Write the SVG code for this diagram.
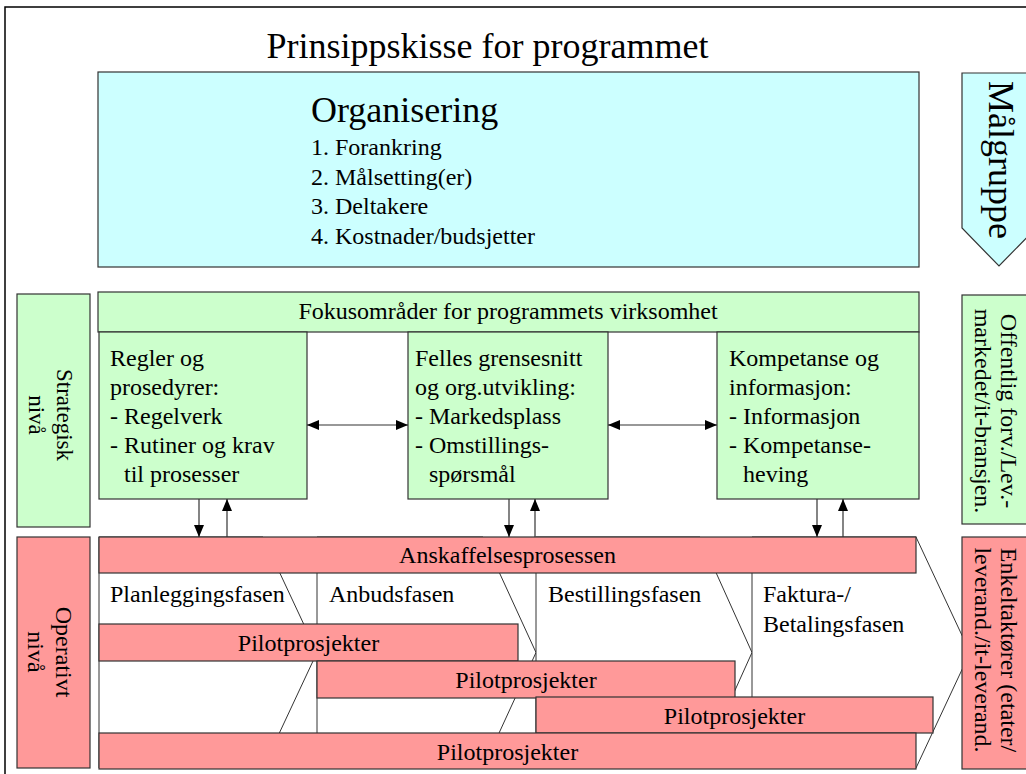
<svg xmlns="http://www.w3.org/2000/svg" width="1026" height="774" viewBox="0 0 1026 774" font-family="'Liberation Serif', 'Times New Roman', serif" font-size="24">
<defs>
<marker id="ah" markerUnits="userSpaceOnUse" markerWidth="12" markerHeight="10" refX="12" refY="5" orient="auto-start-reverse" viewBox="0 0 12 10">
<path d="M0,0 L12,5 L0,10 z" fill="#000"/>
</marker>
<style>
text{font-family:'Liberation Serif','Times New Roman',serif;fill:#000}
.box{stroke:#333;stroke-width:1.2}
.cy{fill:#CCFFFF}
.gr{fill:#CCFFCC}
.rd{fill:#FF9999}
.ph{fill:#fff;stroke:#333;stroke-width:1}
.mid{text-anchor:middle}
.con{stroke:#333;stroke-width:1.2;fill:none}
</style>
</defs>
<rect x="0" y="0" width="1026" height="774" fill="#fff"/>
<rect x="5" y="7" width="1040" height="790" fill="none" stroke="#000" stroke-width="1.5"/>
<text x="487.5" y="58" class="mid" font-size="36">Prinsippskisse for programmet</text>

<g id="organisering">
<rect x="98" y="72" width="821" height="195" class="box cy"/>
<text x="311" y="122" font-size="36">Organisering</text>
<text x="311" y="155">1. Forankring</text>
<text x="311" y="184.5">2. Målsetting(er)</text>
<text x="311" y="214">3. Deltakere</text>
<text x="311" y="243.5">4. Kostnader/budsjetter</text>
</g>

<g id="malgruppe">
<path d="M962,73 L1036,73 L1036,228 L999,266 L962,228 z" class="box cy"/>
<text transform="translate(989,160) rotate(90)" class="mid" font-size="36">Målgruppe</text>
</g>

<g id="strategisk">
<rect x="17" y="294" width="73" height="233" class="box gr"/>
<text transform="translate(57,415) rotate(90)" class="mid" font-size="23"><tspan x="0" y="0">Strategisk</tspan><tspan x="0" y="28">nivå</tspan></text>
</g>

<g id="operativt">
<rect x="17" y="537" width="73" height="231" class="box rd"/>
<text transform="translate(56,652) rotate(90)" class="mid"><tspan x="0" y="0">Operativt</tspan><tspan x="0" y="28">nivå</tspan></text>
</g>

<g id="fokus">
<rect x="98" y="292" width="821" height="40" class="box gr"/>
<text x="508" y="319" class="mid">Fokusområder for programmets virksomhet</text>
</g>

<g id="regler">
<rect x="99" y="332" width="208" height="167" class="box gr"/>
<text x="110" y="366">Regler og</text>
<text x="110" y="395">prosedyrer:</text>
<text x="110" y="424">- Regelverk</text>
<text x="110" y="453">- Rutiner og krav</text>
<text x="124" y="482">til prosesser</text>
</g>

<g id="felles">
<rect x="408" y="332" width="200" height="167" class="box gr"/>
<text x="415" y="366">Felles grensesnitt</text>
<text x="415" y="395">og org.utvikling:</text>
<text x="415" y="424">- Markedsplass</text>
<text x="415" y="453">- Omstillings-</text>
<text x="429" y="482">spørsmål</text>
</g>

<g id="kompetanse">
<rect x="717" y="332" width="202" height="167" class="box gr"/>
<text x="729" y="366">Kompetanse og</text>
<text x="729" y="395">informasjon:</text>
<text x="729" y="424">- Informasjon</text>
<text x="729" y="453">- Kompetanse-</text>
<text x="743" y="482">heving</text>
</g>

<g id="offentlig">
<rect x="962" y="295" width="80" height="229" class="box gr"/>
<text transform="translate(1001,411) rotate(90)" class="mid"><tspan x="0" y="0">Offentlig forv./Lev.-</tspan><tspan x="0" y="26">markedet/it-bransjen.</tspan></text>
</g>

<g id="faser">
<path d="M99,537 L263,537 L317,652.5 L263,768 L99,768 z" class="ph"/>
<path d="M317,537 L483,537 L536,652.5 L483,768 L317,768 z" class="ph"/>
<path d="M536,537 L700,537 L752,652.5 L700,768 L536,768 z" class="ph"/>
<path d="M752,537 L916,537 L970,652.5 L916,768 L752,768 z" class="ph"/>
<text x="110" y="602">Planleggingsfasen</text>
<text x="329" y="602">Anbudsfasen</text>
<text x="548" y="602">Bestillingsfasen</text>
<text x="763" y="602">Faktura-/</text>
<text x="763" y="632">Betalingsfasen</text>
</g>

<g id="enkeltaktorer">
<rect x="962" y="537" width="80" height="232" class="box rd"/>
<text transform="translate(1001,650) rotate(90)" class="mid"><tspan x="0" y="0">Enkeltaktører (etater/</tspan><tspan x="0" y="26">leverand./it-leverand.</tspan></text>
</g>

<g id="anskaffelse">
<rect x="99" y="537" width="817" height="36" class="box rd"/>
<text x="507.5" y="563" class="mid">Anskaffelsesprosessen</text>
</g>

<g id="pilot1">
<rect x="99" y="624" width="419" height="37" class="box rd"/>
<text x="308.5" y="651" class="mid">Pilotprosjekter</text>
</g>
<g id="pilot2">
<rect x="317" y="661" width="418" height="37" class="box rd"/>
<text x="526" y="688" class="mid">Pilotprosjekter</text>
</g>
<g id="pilot3">
<rect x="536" y="697" width="397" height="36" class="box rd"/>
<text x="734.5" y="724" class="mid">Pilotprosjekter</text>
</g>
<g id="pilot4">
<rect x="99" y="733" width="817" height="36" class="box rd"/>
<text x="507.5" y="760" class="mid">Pilotprosjekter</text>
</g>

<g id="connectors">
<line x1="307" y1="425" x2="408" y2="425" class="con" marker-start="url(#ah)" marker-end="url(#ah)"/>
<line x1="608" y1="425" x2="717" y2="425" class="con" marker-start="url(#ah)" marker-end="url(#ah)"/>
<line x1="199" y1="499" x2="199" y2="537" class="con" marker-end="url(#ah)"/>
<line x1="227" y1="537" x2="227" y2="499" class="con" marker-end="url(#ah)"/>
<line x1="509" y1="499" x2="509" y2="537" class="con" marker-end="url(#ah)"/>
<line x1="535" y1="537" x2="535" y2="499" class="con" marker-end="url(#ah)"/>
<line x1="817" y1="499" x2="817" y2="537" class="con" marker-end="url(#ah)"/>
<line x1="843" y1="537" x2="843" y2="499" class="con" marker-end="url(#ah)"/>
</g>
</svg>
